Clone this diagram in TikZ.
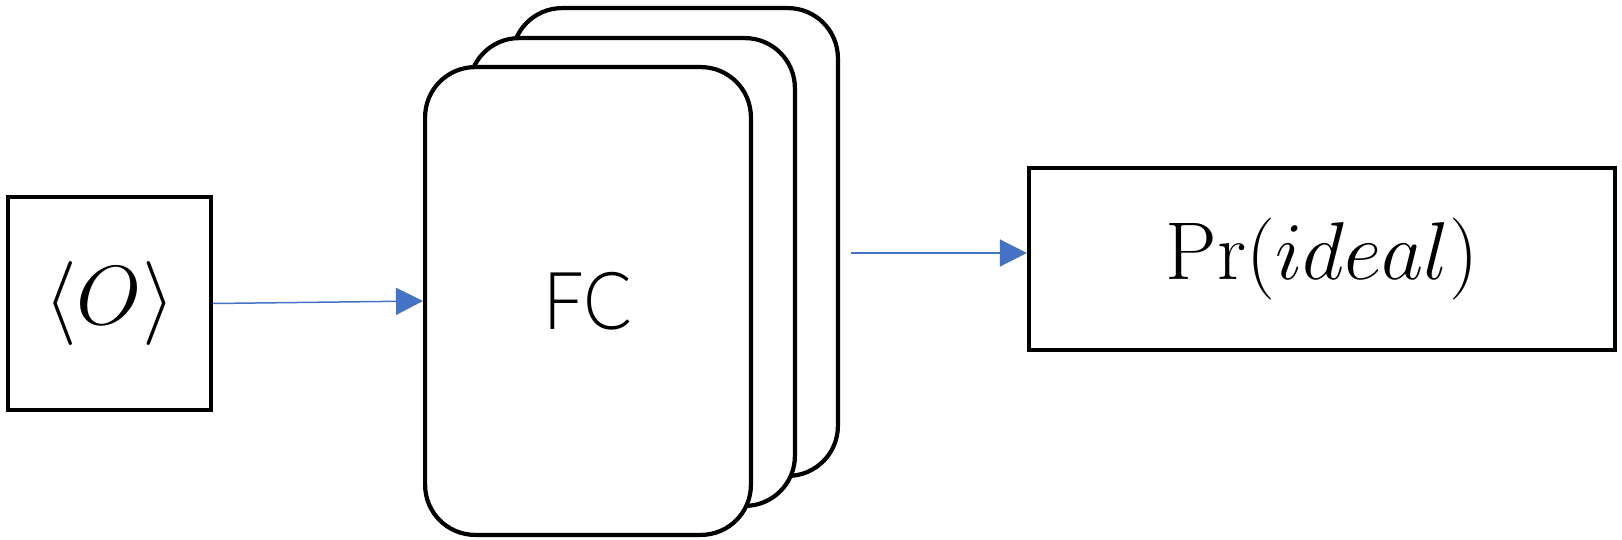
\RequirePackage{fix-cm}
\documentclass[tikz,border=0pt]{standalone}
\usepackage{fontspec}
\newfontfamily\fcfont[FakeStretch=0.9]{Lato Light}
\usetikzlibrary{arrows.meta}
\definecolor{arrowblue}{HTML}{4472C4}
\begin{document}
\begin{tikzpicture}[x=1pt,y=-1pt,
  box/.style={draw=black, fill=white, line width=4.2pt, inner sep=0pt},
  card/.style={draw=black, fill=white, line width=4.2pt, rounded corners=50pt,
    minimum width=325.8pt, minimum height=467.8pt, inner sep=0pt},
  flow/.style={draw=arrowblue, line width=1.5pt, -{Triangle[length=27pt,width=27pt]}}]
\useasboundingbox (0,0) rectangle (1622,540);
% left input box
\node[box, minimum width=203pt, minimum height=213pt] (inp) at (109.5,303.5)
  {\fontsize{84}{96}\selectfont$\langle O\rangle$};
% stacked FC cards
\node[card] (back) at (675,242) {};
\node[card] (mid) at (632,272) {};
\node[card] (front) at (588,301) {\fcfont\fontsize{80}{96}\selectfont FC};
% output box
\node[box, minimum width=586pt, minimum height=182pt] (out) at (1322,259)
  {\fontsize{82}{96}\selectfont$\Pr(ideal)$};
% connectors
\draw[flow] (inp.east) -- (front.west);
\coordinate (a2s) at (851,253);
\draw[flow] (a2s) -- (a2s -| out.west);
\end{tikzpicture}
\end{document}
